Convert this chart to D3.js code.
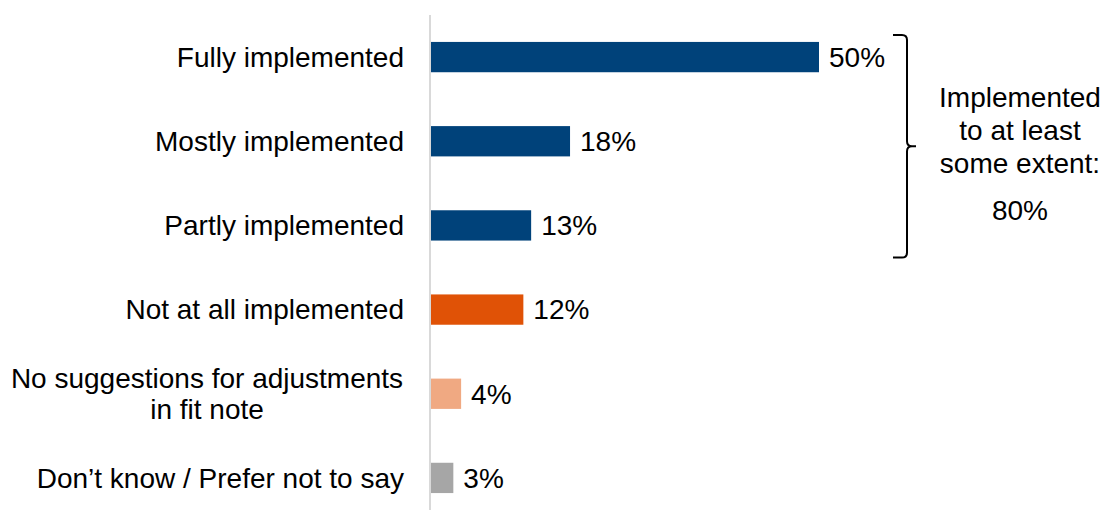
<!DOCTYPE html>
<html>
<head>
<meta charset="utf-8">
<script src="https://cdn.jsdelivr.net/npm/d3@7"></script>
<style>
  html, body { margin: 0; padding: 0; background: #fff; }
  svg { display: block; font-family: "Liberation Sans", Arial, sans-serif; }
</style>
</head>
<body>
<svg id="chart" width="1107" height="510"></svg>
<script>
// Response categories (each entry is a list of label lines)
const categories = [
  ["Fully implemented"],
  ["Mostly implemented"],
  ["Partly implemented"],
  ["Not at all implemented"],
  ["No suggestions for adjustments", "in fit note"],
  ["Don\u2019t know / Prefer not to say"]
];
const values = [50, 18, 13, 12, 4, 3];
const barColors = ["#00427a", "#00427a", "#00427a", "#e05206", "#f0a982", "#a6a6a6"];
const bracketLines = ["Implemented", "to at least", "some extent:"];
const bracketTotal = "80%";

const svg = d3.select("#chart");
const fontSize = 28;

const x = d3.scaleLinear().domain([0, 50]).range([430, 819]);
const y = d3.scaleBand()
  .domain(d3.range(categories.length))
  .range([15, 520])
  .paddingInner(0.64)
  .paddingOuter(0.32);

// vertical baseline
svg.append("line")
  .attr("x1", x(0)).attr("x2", x(0))
  .attr("y1", 15).attr("y2", 510)
  .attr("stroke", "#d9d9d9").attr("stroke-width", 2);

// bars
svg.selectAll("rect.bar")
  .data(values)
  .join("rect")
  .attr("class", "bar")
  .attr("x", x(0) + 1)
  .attr("y", (d, i) => y(i))
  .attr("width", d => x(d) - x(0) - 1)
  .attr("height", y.bandwidth())
  .attr("fill", (d, i) => barColors[i]);

// value labels
svg.selectAll("text.val")
  .data(values)
  .join("text")
  .attr("class", "val")
  .attr("x", d => x(d) + 10)
  .attr("y", (d, i) => y(i) + y.bandwidth() / 2)
  .attr("dy", "0.35em")
  .attr("font-size", fontSize)
  .attr("fill", "#000")
  .text(d => d + "%");

// category labels
const lineH = 31;
categories.forEach((lines, i) => {
  const cy = y(i) + y.bandwidth() / 2;
  const t = svg.append("text")
    .attr("font-size", fontSize)
    .attr("fill", "#000");
  if (lines.length === 1) {
    t.attr("x", 404).attr("y", cy).attr("dy", "0.35em")
      .attr("text-anchor", "end").text(lines[0]);
  } else {
    t.attr("text-anchor", "middle");
    lines.forEach((ln, k) => {
      t.append("tspan")
        .attr("x", 207)
        .attr("y", cy + (k - (lines.length - 1) / 2) * lineH)
        .attr("dy", "0.35em")
        .text(ln);
    });
  }
});

// curly bracket spanning the first three rows
const bTop = y(0) - 7, bBot = y(2) + y.bandwidth() + 17;
const bMid = (bTop + bBot) / 2;
const bx = 907, r = 5;
const bracePath = [
  `M ${bx - 14} ${bTop}`,
  `L ${bx - r} ${bTop}`,
  `Q ${bx} ${bTop} ${bx} ${bTop + r}`,
  `L ${bx} ${bMid - r}`,
  `Q ${bx} ${bMid} ${bx + r} ${bMid}`,
  `L ${bx + 9} ${bMid}`,
  `M ${bx + r} ${bMid}`,
  `Q ${bx} ${bMid} ${bx} ${bMid + r}`,
  `L ${bx} ${bBot - r}`,
  `Q ${bx} ${bBot} ${bx - r} ${bBot}`,
  `L ${bx - 14} ${bBot}`
].join(" ");
svg.append("path")
  .attr("d", bracePath)
  .attr("fill", "none")
  .attr("stroke", "#000")
  .attr("stroke-width", 2);

// bracket annotation
const ann = svg.append("text")
  .attr("font-size", fontSize)
  .attr("text-anchor", "middle")
  .attr("fill", "#000");
bracketLines.forEach((ln, k) => {
  ann.append("tspan").attr("x", 1020).attr("y", 97 + k * 33).attr("dy", "0.35em").text(ln);
});
ann.append("tspan").attr("x", 1020).attr("y", 210).attr("dy", "0.35em").text(bracketTotal);
</script>
</body>
</html>
